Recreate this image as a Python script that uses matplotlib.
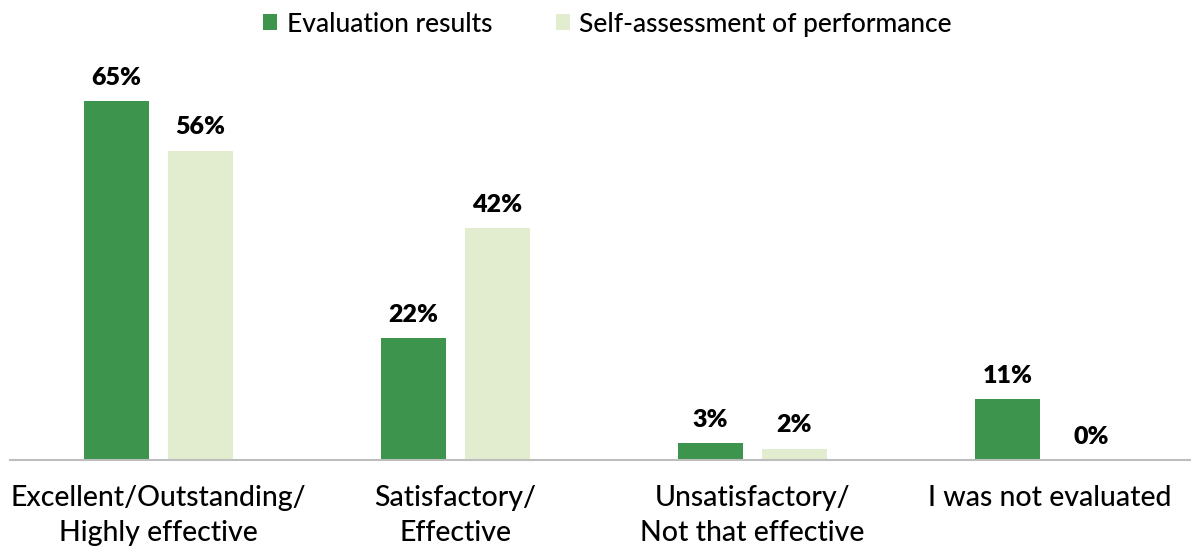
import matplotlib.pyplot as plt
from matplotlib.patches import Rectangle
import numpy as np

plt.rcParams['font.family'] = ['Lato', 'DejaVu Sans']

categories = ['Excellent/Outstanding/\nHighly effective', 'Satisfactory/\nEffective',
              'Unsatisfactory/\nNot that effective', 'I was not evaluated']
evaluation = [65, 22, 3, 11]
self_assessment = [56, 42, 2, 0]
series_names = ['Evaluation results', 'Self-assessment of performance']
colors = ['#3D944C', '#E2EDCF']

fig = plt.figure(figsize=(11.91, 5.48), dpi=100)
ax = fig.add_axes([10 / 1191, 88 / 548, 1188 / 1191, 386.6 / 548])

x = np.arange(len(categories))
width = 0.222
offset = 0.1414

for vals, dx, c in [(evaluation, -offset, colors[0]), (self_assessment, offset, colors[1])]:
    bars = ax.bar(x + dx, vals, width, color=c, edgecolor='none')
    for b, v in zip(bars, vals):
        ax.annotate(f'{v}%', (b.get_x() + b.get_width() / 2, v),
                    xytext=(0, 9), textcoords='offset points',
                    ha='center', va='bottom', fontsize=18, fontweight='heavy', color='black')

ax.set_xlim(-0.5, 3.5)
ax.set_ylim(0, 70)
ax.set_xticks(x)
ax.set_xticklabels(categories, fontsize=20.5, linespacing=1.45, fontweight='medium')
ax.tick_params(axis='x', length=0, pad=18)
ax.set_yticks([])
for s in ['top', 'right', 'left']:
    ax.spines[s].set_visible(False)
ax.spines['bottom'].set_color('#BDBDBD')
ax.spines['bottom'].set_linewidth(1.5)

handles = [Rectangle((0, 0), 1, 1, fc=c, ec='none') for c in colors]
leg = fig.legend(handles, series_names, loc='upper center', bbox_to_anchor=(0.51, 1.022),
                 ncol=2, frameon=False, handlelength=0.55, handleheight=0.55,
                 handletextpad=0.35, columnspacing=2.4,
                 prop={'size': 19, 'weight': 'medium'})

fig.savefig('out.png', dpi=100)
